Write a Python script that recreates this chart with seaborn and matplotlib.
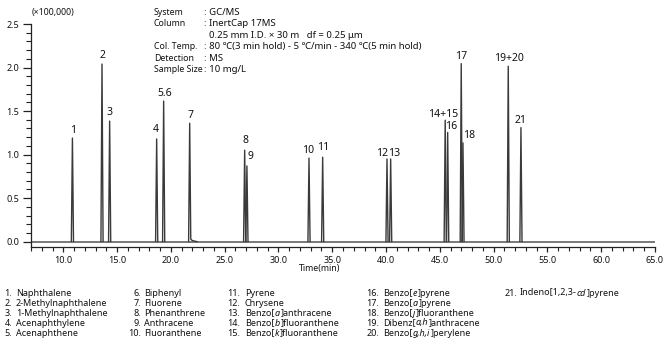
import matplotlib
matplotlib.use("Agg")
import matplotlib.pyplot as plt
from matplotlib.ticker import MultipleLocator, FormatStrFormatter
import seaborn as sns
import pandas as pd

# Peak list: label, retention time (min), response (x100,000)
peak_labels = ["1", "2", "3", "4", "5.6", "7", "8", "9", "10", "11", "12", "13",
               "14+15", "16", "17", "18", "19+20", "21"]
peak_times = [10.85, 13.60, 14.31, 18.68, 19.33, 21.75, 26.86, 27.07, 32.84, 34.11,
              40.09, 40.43, 45.50, 45.73, 46.99, 47.15, 51.36, 52.54]
peak_heights = [1.19, 2.04, 1.385, 1.18, 1.615, 1.36, 1.05, 0.87, 0.96, 0.97,
                0.95, 0.95, 1.395, 1.255, 2.045, 1.135, 2.015, 1.31]

# Compound names; parts between asterisks are set in italics
compound_names = [
    "Naphthalene", "2-Methylnaphthalene", "1-Methylnaphthalene", "Acenaphthylene",
    "Acenaphthene", "Biphenyl", "Fluorene", "Phenanthrene", "Anthracene",
    "Fluoranthene", "Pyrene", "Chrysene", "Benzo[*a*]anthracene",
    "Benzo[*b*]fluoranthene", "Benzo[*k*]fluoranthene",
    "Benzo[*e*]pyrene", "Benzo[*a*]pyrene", "Benzo[*j*]fluoranthene",
    "Dibenz[*a,h*]anthracene", "Benzo[*g,h,i*]perylene",
    "Indeno[1,2,3-*cd*]pyrene",
]

info_keys = ["System", "Column", "", "Col. Temp.", "Detection", "Sample Size"]
info_values = [": GC/MS", ": InertCap 17MS", "  0.25 mm I.D. × 30 m   df = 0.25 μm",
               ": 80 ℃(3 min hold) - 5 ℃/min - 340 ℃(5 min hold)", ": MS",
               ": 10 mg/L"]

x_start, x_end = 7.0, 65.0

sns.set_theme(style="ticks")
FONT = ["Noto Sans", "DejaVu Sans"]
plt.rcParams["font.family"] = FONT

W, H = 668, 348
fig = plt.figure(figsize=(W / 100, H / 100), dpi=100)
ax = fig.add_axes([31 / W, 1 - 247 / H, 624 / W, 223 / H])

# Build each peak as a narrow triangle sitting on the baseline
half_w = 0.1
rows = []
for i, (t, h) in enumerate(zip(peak_times, peak_heights)):
    xs = [t - half_w, t, t + half_w]
    ys = [0.0, h, 0.0]
    if peak_labels[i] == "7":
        xs = [t - half_w, t, t + half_w, t + 0.25, t + 0.7]
        ys = [0.0, h, 0.03, 0.012, 0.0]
    for x, y in zip(xs, ys):
        rows.append({"time": x, "resp": y, "peak": i})
trace = pd.DataFrame(rows)
base = pd.DataFrame({"time": [x_start, x_end], "resp": [0.0, 0.0]})

line_col = "#3a3a3a"
sns.lineplot(data=base, x="time", y="resp", color="#555555", lw=1.1, ax=ax)
sns.lineplot(data=trace, x="time", y="resp", units="peak", estimator=None,
             sort=False, color=line_col, lw=1.0, ax=ax)

ax.set_xlim(x_start, x_end)
ax.set_ylim(-0.061, 2.5)
ax.xaxis.set_major_locator(MultipleLocator(5))
ax.xaxis.set_minor_locator(MultipleLocator(1))
ax.yaxis.set_major_locator(MultipleLocator(0.5))
ax.yaxis.set_minor_locator(MultipleLocator(0.1))
ax.xaxis.set_major_formatter(FormatStrFormatter("%.1f"))
ax.yaxis.set_major_formatter(FormatStrFormatter("%.1f"))
ax.set_xticks([t for t in range(10, 66, 5)])
ax.tick_params(axis="x", which="major", length=3.8, width=0.9, labelsize=6.5,
               pad=2.5, color="#222222", labelcolor="#111111")
ax.tick_params(axis="x", which="minor", length=3.2, width=0.8, color="#222222")
ax.tick_params(axis="y", which="major", length=6.0, width=0.9, labelsize=6.5,
               pad=2.5, color="#222222", labelcolor="#111111")
ax.tick_params(axis="y", which="minor", length=3.6, width=0.8, color="#222222")
for s in ["top", "right"]:
    ax.spines[s].set_visible(False)
for s in ["left", "bottom"]:
    ax.spines[s].set_linewidth(0.9)
    ax.spines[s].set_color("#222222")
ax.set_xlabel("")
ax.set_ylabel("")
for lab in ax.get_xticklabels() + ax.get_yticklabels():
    lab.set_fontweight("medium")

# Peak numbers above each apex (offsets in pixels)
label_offsets = {
    "1": (0.6, 8), "2": (0, 8.5), "3": (0.3, 8.5), "4": (-0.7, 9), "5.6": (0.6, 8),
    "7": (1, 7.8), "8": (0.6, 9.5), "9": (3.7, 9.5), "10": (-1, 7.5), "11": (0.6, 9.3),
    "12": (-5.3, 5.4), "13": (3.3, 5.4), "14+15": (-2, 6), "16": (3.3, 6.4),
    "17": (0, 7.4), "18": (6.3, 7), "19+20": (0.4, 7.5), "21": (0, 7.2),
}
for lab, t, h in zip(peak_labels, peak_times, peak_heights):
    dx, dy = label_offsets[lab]
    ax.annotate(lab, (t, h), xytext=(dx, dy), textcoords="offset pixels",
                ha="center", va="center", fontsize=7.5, color="#111111")


def fx(px):
    return px / W


def fy(py):
    return 1 - py / H


fig.text(fx(32), fy(13), "(×100,000)", fontsize=6.3, va="center", ha="left",
         color="#111111")
fig.text(fx(340), fy(268), "Time(min)", fontsize=6.3, va="center", ha="right",
         color="#111111")

# Analytical conditions
for k, (key, val) in enumerate(zip(info_keys, info_values)):
    y = 12.5 + k * 11.4
    if key:
        fig.text(fx(154), fy(y), key, fontsize=6.3, va="center", ha="left",
                 color="#111111")
    fig.text(fx(204), fy(y), val, fontsize=6.9, va="center", ha="left",
             color="#111111")

# Compound list in five columns, italic parts placed piece by piece
renderer = fig.canvas.get_renderer()
num_right = [12, 141, 240, 379, 517]
name_left = [16, 144, 245, 383, 520]
for idx, name in enumerate(compound_names):
    col, row = divmod(idx, 5)
    y_base = 295.5 + row * 10
    fig.text(fx(num_right[col]), fy(y_base), f"{idx + 1}.", fontsize=6.5,
             va="baseline", ha="right", color="#111111")
    x = name_left[col]
    for j, part in enumerate(name.split("*")):
        if not part:
            continue
        t = fig.text(fx(x), fy(y_base), part, fontsize=6.5, va="baseline",
                     ha="left", color="#111111",
                     style="italic" if j % 2 else "normal")
        x += t.get_window_extent(renderer).width + (0.8 if j % 2 else 0)

fig.savefig("out.png", dpi=100, facecolor="white")
